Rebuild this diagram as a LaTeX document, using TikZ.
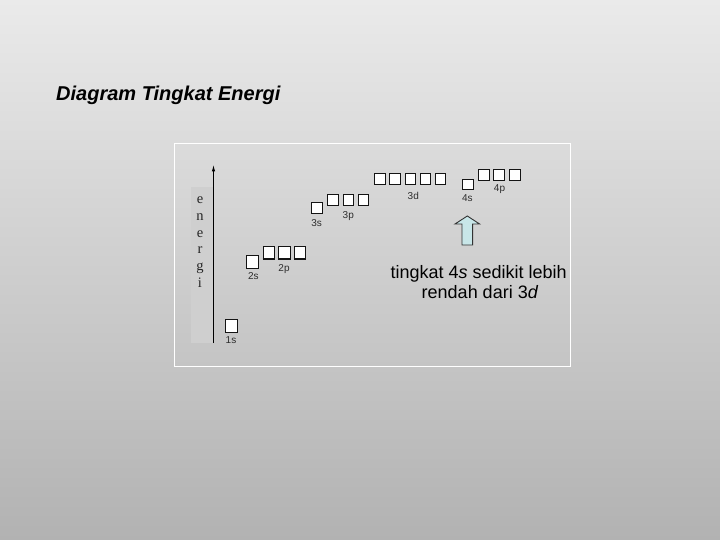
\documentclass[tikz,border=0pt]{standalone}
\usepackage{fontspec}
\setmainfont{Liberation Sans}
\newfontfamily\serifletters{Liberation Serif}
\usetikzlibrary{arrows.meta,shapes.arrows}
\definecolor{bgtop}{RGB}{234,234,234}
\definecolor{bgbot}{RGB}{178,178,178}
\definecolor{stripc}{RGB}{207,207,207}
\definecolor{arrowfill}{RGB}{200,230,232}
\definecolor{boxline}{RGB}{20,20,20}
\definecolor{lblc}{RGB}{45,45,45}
\tikzset{
  orb/.style={draw=boxline, fill=white, line width=1pt, minimum width=#1, minimum height=11.5pt, inner sep=0pt},
  orb/.default=11pt,
  lbl/.style={font=\fontsize{10}{11}\selectfont, text=lblc, inner sep=0pt},
  letter/.style={font=\serifletters\fontsize{14.5}{15}\selectfont, anchor=base, inner sep=0pt, text=black!85},
  callout/.style={font=\fontsize{18}{20}\selectfont, anchor=base, inner sep=0pt},
}
\begin{document}
\begin{tikzpicture}[x=1pt,y=-1pt]
\useasboundingbox (0,0) rectangle (720,540);
% background
\shade[top color=bgtop, bottom color=bgbot] (0,0) rectangle (720,540);
% title
\node[anchor=base west, inner sep=0pt, font=\fontsize{20}{22}\selectfont\bfseries\itshape] (title) at (56,101) {Diagram Tingkat Energi};
% frame
\draw[white, line width=1pt] (174,144) rectangle (570.5,366);
% energi strip
\fill[stripc] (190.5,187) rectangle (212.5,343);
% axis
\coordinate (axb) at (213.5,343);
\coordinate (axt) at (213.5,164.5);
\draw[line width=1.1pt, -{Latex[length=7pt,width=3.5pt]}] (axb) -- (axt);
% letters
\node[letter] (l1) at (200,203.5) {e};
\node[letter] (l2) at (200,220.5) {n};
\node[letter] (l3) at (200,237.5) {e};
\node[letter] (l4) at (200,254) {r};
\node[letter] (l5) at (200,270.5) {g};
\node[letter] (l6) at (200,287) {i};
% 1s
\node[orb=12.5pt, minimum height=13pt] (s1) at (231.3,326) {};
\node[lbl] (s1l) at (231,340) {1s};
% 2s
\node[orb=12.5pt, minimum height=13pt] (s2) at (252.3,261.7) {};
\node[lbl] (s2l) at (253.3,276.5) {2s};
% 2p
\node[orb=11.5pt, minimum height=12.5pt] (p2a) at (268.8,252.3) {};
\node[orb=11.5pt, minimum height=12.5pt] (p2b) at (284.5,252.3) {};
\node[orb=11.5pt, minimum height=12.5pt] (p2c) at (300,252.3) {};
\foreach \n in {p2a,p2b,p2c}{\draw[boxline, line width=2pt] (\n.south west) -- (\n.south east);}
\node[lbl] (p2l) at (284,269.5) {2p};
% 3s
\node[orb=11pt, minimum height=10.7pt] (s3) at (316.5,208) {};
\node[lbl] (s3l) at (316.7,223.5) {3s};
% 3p
\node[orb=10.5pt, minimum height=10.7pt] (p3a) at (333,200.3) {};
\node[orb=10.5pt, minimum height=10.7pt] (p3b) at (348.3,200.3) {};
\node[orb=10.5pt, minimum height=10.7pt] (p3c) at (363.5,200.3) {};
\node[lbl] (p3l) at (348.3,216.5) {3p};
% 3d
\node[orb=10.5pt, minimum height=11.5pt] (d3a) at (380.2,179.2) {};
\node[orb=10.5pt, minimum height=11.5pt] (d3b) at (395.2,179.2) {};
\node[orb=10.5pt, minimum height=11.5pt] (d3c) at (410.3,179.2) {};
\node[orb=10.5pt, minimum height=11.5pt] (d3d) at (425.5,179.2) {};
\node[orb=10.5pt, minimum height=11.5pt] (d3e) at (440.7,179.2) {};
\node[lbl] (d3l) at (413.3,196) {3d};
% 4s
\node[orb=11pt, minimum height=10pt] (s4) at (467.8,185) {};
\node[lbl] (s4l) at (467.3,198.3) {4s};
% 4p
\node[orb=10.7pt, minimum height=10.7pt] (p4a) at (483.7,174.7) {};
\node[orb=10.7pt, minimum height=10.7pt] (p4b) at (499,174.7) {};
\node[orb=10.7pt, minimum height=10.7pt] (p4c) at (514.7,174.7) {};
\node[lbl] (p4l) at (499.5,189) {4p};
% block arrow
\draw[fill=arrowfill, draw=black!80, line width=0.9pt, line join=miter]
  (462,245) -- (462,224) -- (455,224) -- (467.3,216) -- (479.6,224) -- (472.6,224) -- (472.6,245) -- cycle;
% callout text
\node[callout] (c1) at (478.7,278) {tingkat 4\textit{s} sedikit lebih};
\node[callout] (c2) at (480,298.5) {rendah dari 3\textit{d}};
\end{tikzpicture}
\end{document}
